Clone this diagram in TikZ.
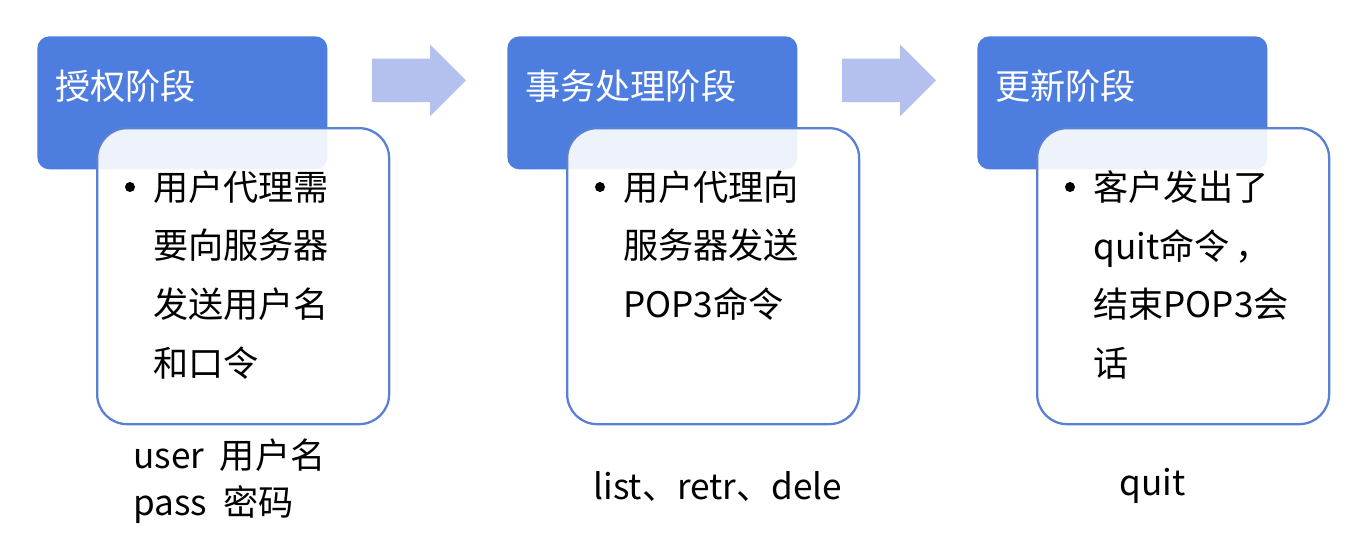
\documentclass[tikz,border=0pt]{standalone}
\usepackage{fontspec}
\setmainfont{Noto Sans CJK SC}
\usetikzlibrary{positioning,shapes.arrows}
\definecolor{headblue}{RGB}{78,125,224}
\definecolor{boxline}{RGB}{90,128,212}
\definecolor{arrowblue}{RGB}{180,193,238}
\tikzset{
  headbox/.style={fill=headblue, rounded corners=0.24cm, minimum width=5.8cm, minimum height=2.66cm, inner sep=0pt},
  headtext/.style={text=white, font=\fontsize{20}{24}\selectfont, inner sep=0pt},
  bodybox/.style={draw=boxline, line width=1.3pt, fill=white, fill opacity=0.9, rounded corners=0.6cm, minimum width=5.84cm, minimum height=5.92cm, inner sep=0pt},
  bodytext/.style={align=left, font=\fontsize{20}{33.5}\selectfont, inner sep=0pt},
  dot/.style={circle, fill=black, minimum size=0.2cm, inner sep=0pt},
  stagearrow/.style={single arrow, fill=arrowblue, minimum height=1.88cm, single arrow head extend=0.28cm, single arrow tip angle=90, inner xsep=0pt, inner ysep=0.43cm},
  note/.style={align=left, font=\fontsize{20}{26.6}\selectfont, inner sep=0pt}
}
\begin{document}
\begin{tikzpicture}
    \useasboundingbox (0,0) rectangle (27.04,-10.96);
    % three stages: header, box, text
    \foreach \i/\hx/\hd/\bd in {1/0.74/授权阶段/{用户代理需\\要向服务器\\发送用户名\\和口令},
                               2/10.14/事务处理阶段/{用户代理向\\服务器发送\\POP3命令},
                               3/19.54/更新阶段/{客户发出了\\quit命令\,，\\结束POP3会\\话}}
        {
            \node[headbox, anchor=north west] (hd\i) at (\hx,-0.72) {};
            \node[headtext, anchor=west] (ht\i) at ([xshift=0.36cm, yshift=-1.0cm]hd\i.north west) {\hd};
            \node[bodybox, anchor=north west] (bx\i) at ([xshift=1.18cm, yshift=-1.82cm]hd\i.north west) {};
            \node[dot] (dt\i) at ([xshift=0.68cm, yshift=-1.2cm]bx\i.north west) {};
            \node[bodytext, anchor=north west] (tx\i) at ([xshift=1.14cm, yshift=-0.86cm]bx\i.north west) {\bd};
        }
    \foreach \i in {1,2}
        {
            \node[stagearrow, right=0.88cm of hd\i.east, yshift=0.45cm] (ar\i) {};
        }
    % commands under each stage
    \node[note, anchor=west] (nt1) at (2.66,-9.63) {user~~用户名\\pass~~密码};
    \node[note] (nt2) at (14.36,-9.72) {list、retr、dele};
    \node[note] (nt3) at (23.05,-9.72) {quit};
\end{tikzpicture}
\end{document}
